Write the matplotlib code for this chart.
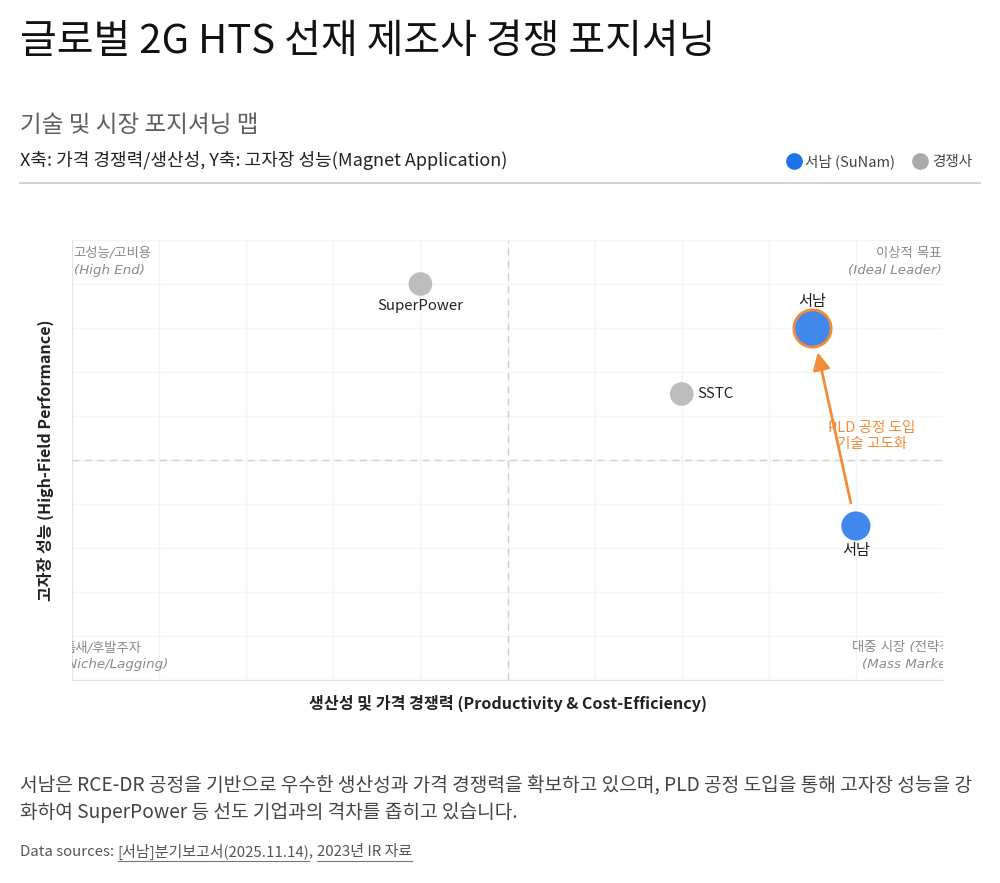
import matplotlib
matplotlib.use("Agg")
import matplotlib.pyplot as plt
from matplotlib.lines import Line2D

plt.rcParams['font.family'] = ['Noto Sans CJK KR', 'DejaVu Sans']

# data (x: productivity/cost, y: high-field performance, 0-10 scale)
companies = ['SuperPower', 'SSTC']
comp_x = [4.0, 7.0]
comp_y = [9.0, 6.5]

sunam_now_x, sunam_now_y = 9.0, 3.5
sunam_target_x, sunam_target_y = 8.5, 8.0

quadrants = [
    ('고성능/고비용', '(High End)'),
    ('이상적 목표', '(Ideal Leader)'),
    ('틈새/후발주자', '(Niche/Lagging)'),
    ('대중 시장 (전략적 위치)', '(Mass Market)'),
]

BLUE = '#4287ec'
GRAY = '#bdbdbd'
ORANGE = '#f28c38'

W, H = 1000, 883
fig = plt.figure(figsize=(10, 8.83), dpi=100)
fig.patch.set_facecolor('white')

def fy(px):
    return 1 - px / H

ax = fig.add_axes([72 / W, fy(680), 871 / W, 440 / H])
ax.set_xlim(0, 10)
ax.set_ylim(0, 10)
ax.set_xticks(range(0, 11))
ax.set_yticks(range(0, 11))
ax.tick_params(length=0, labelbottom=False, labelleft=False)
ax.grid(True, color='#f4f4f4', lw=1)
ax.set_axisbelow(True)
for s in ['top', 'right']:
    ax.spines[s].set_visible(False)
for s in ['left', 'bottom']:
    ax.spines[s].set_color('#e3e3e3')
ax.axvline(5, color='#cfcfcf', lw=1, ls=(0, (5, 4)))
ax.axhline(5, color='#cfcfcf', lw=1, ls=(0, (5, 4)))

# competitors
ax.scatter(comp_x, comp_y, s=290, color=GRAY, zorder=3, edgecolors='none')
ax.text(comp_x[0], comp_y[0] - 0.35, companies[0], ha='center', va='top',
        fontsize=10.8, color='#222222', zorder=4)
ax.text(comp_x[1] + 0.18, comp_y[1], companies[1], ha='left', va='center',
        fontsize=10.8, color='#222222', zorder=4)

# SuNam
ax.scatter([sunam_now_x], [sunam_now_y], s=440, color=BLUE, zorder=3, edgecolors='none')
ax.scatter([sunam_target_x], [sunam_target_y], s=720, color=BLUE, zorder=3,
           edgecolors=ORANGE, linewidths=2)
ax.text(sunam_now_x, sunam_now_y - 0.36, '서남', ha='center', va='top',
        fontsize=11, color='#222222', zorder=4)
ax.text(sunam_target_x, sunam_target_y + 0.42, '서남', ha='center', va='bottom',
        fontsize=11, color='#222222', zorder=4)

ax.annotate('', xy=(sunam_target_x, sunam_target_y), xytext=(sunam_now_x, sunam_now_y),
            arrowprops=dict(arrowstyle='-|>', color=ORANGE, lw=2,
                            shrinkA=17, shrinkB=18, mutation_scale=26),
            zorder=2)
ax.text(9.18, 5.55, 'PLD 공정 도입\n기술 고도화', ha='center', va='center',
        fontsize=10.5, color=ORANGE, linespacing=1.15, zorder=4)

# quadrant labels
qkw = dict(fontsize=9.6, color='#8a8a8a', style='italic', clip_on=True, linespacing=1.4,
           family=['DejaVu Sans', 'Noto Sans CJK KR'])
ax.text(0.02, 9.85, quadrants[0][0] + '\n' + quadrants[0][1], ha='left', va='top', **qkw)
ax.text(9.98, 9.85, quadrants[1][0] + '\n' + quadrants[1][1], ha='right', va='top', **qkw)
ax.text(-0.1, 0.73, quadrants[2][0], ha='left', va='center', **qkw)
ax.text(-0.1, 0.36, quadrants[2][1], ha='left', va='center', **qkw)
ax.text(8.96, 0.73, quadrants[3][0], ha='left', va='center', **qkw)
ax.text(9.07, 0.36, quadrants[3][1], ha='left', va='center', **qkw)

fig.text(508 / W, fy(703), '생산성 및 가격 경쟁력 (Productivity & Cost-Efficiency)',
         ha='center', va='center', fontsize=11.6, fontweight='bold', color='#222222')
fig.text(45 / W, fy(460), '고자장 성능 (High-Field Performance)', rotation=90,
         ha='center', va='center', fontsize=11.5, fontweight='bold', color='#222222')

# header
fig.text(20 / W, fy(42), '글로벌 2G HTS 선재 제조사 경쟁 포지셔닝', ha='left', va='center',
         fontsize=28.8, color='#111111')
fig.text(20 / W, fy(125), '기술 및 시장 포지셔닝 맵', ha='left', va='center',
         fontsize=17, color='#5f5f5f')
fig.text(20 / W, fy(160), 'X축: 가격 경쟁력/생산성, Y축: 고자장 성능(Magnet Application)',
         ha='left', va='center', fontsize=13, color='#222222')
fig.add_artist(Line2D([20 / W, 980 / W], [fy(183), fy(183)], color='#d5d5d5', lw=1.5))

handles = [
    Line2D([], [], marker='o', ls='none', markersize=11, color='#1a73e8'),
    Line2D([], [], marker='o', ls='none', markersize=11, color='#aaaaaa'),
]
fig.legend(handles, ['서남 (SuNam)', '경쟁사'], loc='center right',
           bbox_to_anchor=(985 / W, fy(162)), ncol=2, frameon=False,
           fontsize=10.5, handletextpad=0.3, columnspacing=1.2, labelcolor='#444444',
           handlelength=1.0)

# footer
fig.text(20 / W, fy(785),
         '서남은 RCE-DR 공정을 기반으로 우수한 생산성과 가격 경쟁력을 확보하고 있으며, PLD 공정 도입을 통해 고자장 성능을 강',
         ha='left', va='center', fontsize=13.8, color='#444444')
fig.text(20 / W, fy(812), '화하여 SuperPower 등 선도 기업과의 격차를 좁히고 있습니다.',
         ha='left', va='center', fontsize=13.8, color='#444444')

# sources with underlined links
renderer = fig.canvas.get_renderer()
pieces = [('Data sources: ', False), ('[서남]분기보고서(2025.11.14)', True),
          (', ', False), ('2023년 IR 자료', True)]
x = 20
for txt, link in pieces:
    t = fig.text(x / W, fy(852), txt, ha='left', va='center', fontsize=10.8, color='#555555')
    bb = t.get_window_extent(renderer)
    if link:
        fig.add_artist(Line2D([bb.x0 / W, bb.x1 / W], [fy(861), fy(861)],
                              color='#777777', lw=0.8))
    x = bb.x1

fig.savefig('out.png', dpi=100, facecolor='white')
